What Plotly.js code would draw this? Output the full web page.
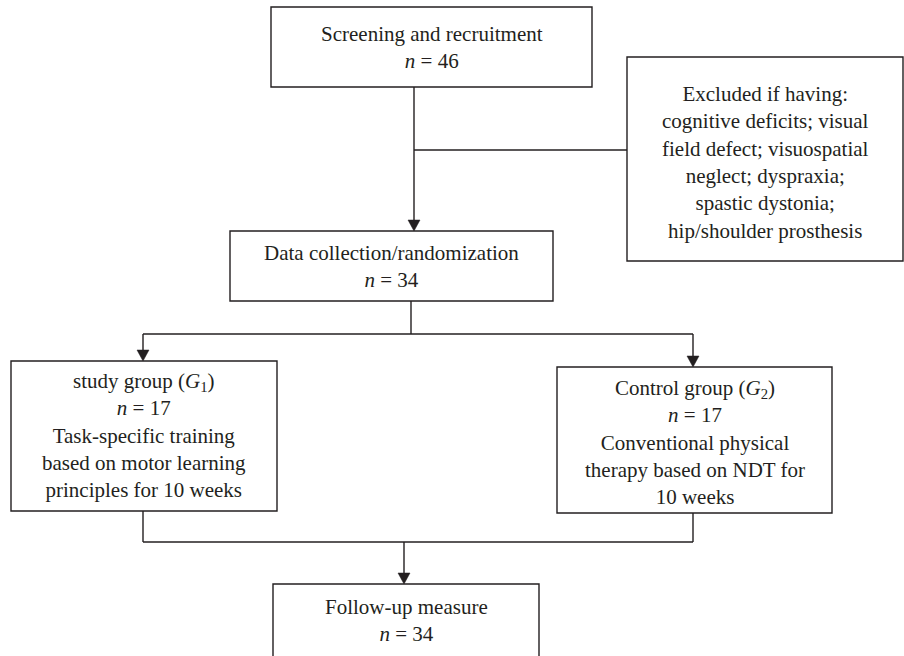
<!DOCTYPE html>
<html>
<head>
<meta charset="utf-8">
<script src="https://cdn.plot.ly/plotly-3.0.1.min.js"></script>
<style>html,body{margin:0;padding:0;background:#fff;}#chart{width:904px;height:656px;}</style>
</head>
<body>
<div id="chart"></div>
<script>
// ---- content ----
const boxNames = ["screening", "excluded", "randomization", "study", "control", "followup"];
const boxTitles = [
  "Screening and recruitment",
  "Excluded if having:<br>cognitive deficits; visual<br>field defect; visuospatial<br>neglect; dyspraxia;<br>spastic dystonia;<br>hip/shoulder prosthesis",
  "Data collection/randomization",
  "study group (<i>G</i><sub>1</sub>)",
  "Control group (<i>G</i><sub>2</sub>)",
  "Follow-up measure"
];
const boxCounts = [46, null, 34, 17, 17, 34];
const boxNotes = [
  "",
  "",
  "",
  "Task-specific training<br>based on motor learning<br>principles for 10 weeks",
  "Conventional physical<br>therapy based on NDT for<br>10 weeks",
  ""
];

// ---- geometry (pixel coordinates of the 904x656 canvas) ----
const geom = {
  screening:     {x0: 271, x1: 592, y0: 7,   y1: 87,  ty: 47},
  excluded:      {x0: 627, x1: 903, y0: 57,  y1: 261, ty: 162},
  randomization: {x0: 230, x1: 553, y0: 231, y1: 301, ty: 266},
  study:         {x0: 11,  x1: 277, y0: 361, y1: 511, ty: 435},
  control:       {x0: 557, x1: 832, y0: 367, y1: 513, ty: 442},
  followup:      {x0: 273, x1: 539, y0: 584, y1: 700, ty: 620}
};
const ink = "#231f20";
const lw = 1.4;

const shapes = [];
const annotations = [];

function line(x0, y0, x1, y1) {
  shapes.push({type: "line", xref: "x", yref: "y", x0, y0, x1, y1,
               line: {color: ink, width: lw}});
}
function arrowDown(x, y0, y1) {
  line(x, y0, x, y1 - 10);
  shapes.push({type: "path", xref: "x", yref: "y",
    path: `M ${x-6} ${y1-11} L ${x+6} ${y1-11} L ${x} ${y1} Z`,
    fillcolor: ink, line: {color: ink, width: 0.5}});
}

// connectors
arrowDown(414, 87, 231);
line(414, 150, 627, 150);
line(411, 301, 411, 334);
line(143, 334, 693, 334);
arrowDown(143, 334, 361);
arrowDown(693, 334, 367);
line(143, 511, 143, 542);
line(693, 513, 693, 542);
line(143, 542, 693, 542);
arrowDown(404, 542, 584);

// boxes + text
boxNames.forEach((name, i) => {
  const g = geom[name];
  shapes.push({type: "rect", xref: "x", yref: "y", x0: g.x0, x1: g.x1, y0: g.y0, y1: g.y1,
               line: {color: ink, width: lw}, fillcolor: "rgba(0,0,0,0)"});
  let t = boxTitles[i];
  if (boxCounts[i] !== null) t += "<br><i>n</i> = " + boxCounts[i];
  if (boxNotes[i]) t += "<br>" + boxNotes[i];
  annotations.push({x: (g.x0 + g.x1) / 2, y: g.ty, xref: "x", yref: "y",
    text: t, showarrow: false, align: "center", xanchor: "center", yanchor: "middle",
    font: {family: "Liberation Serif, Times New Roman, serif", size: 21, color: ink}});
});

const layout = {
  width: 904, height: 656,
  margin: {l: 0, r: 0, t: 0, b: 0},
  paper_bgcolor: "#fff", plot_bgcolor: "#fff",
  xaxis: {range: [0, 904], visible: false, fixedrange: true},
  yaxis: {range: [656, 0], visible: false, fixedrange: true},
  showlegend: false,
  shapes, annotations
};
Plotly.newPlot("chart", [], layout, {displayModeBar: false, staticPlot: true});
</script>
</body>
</html>
